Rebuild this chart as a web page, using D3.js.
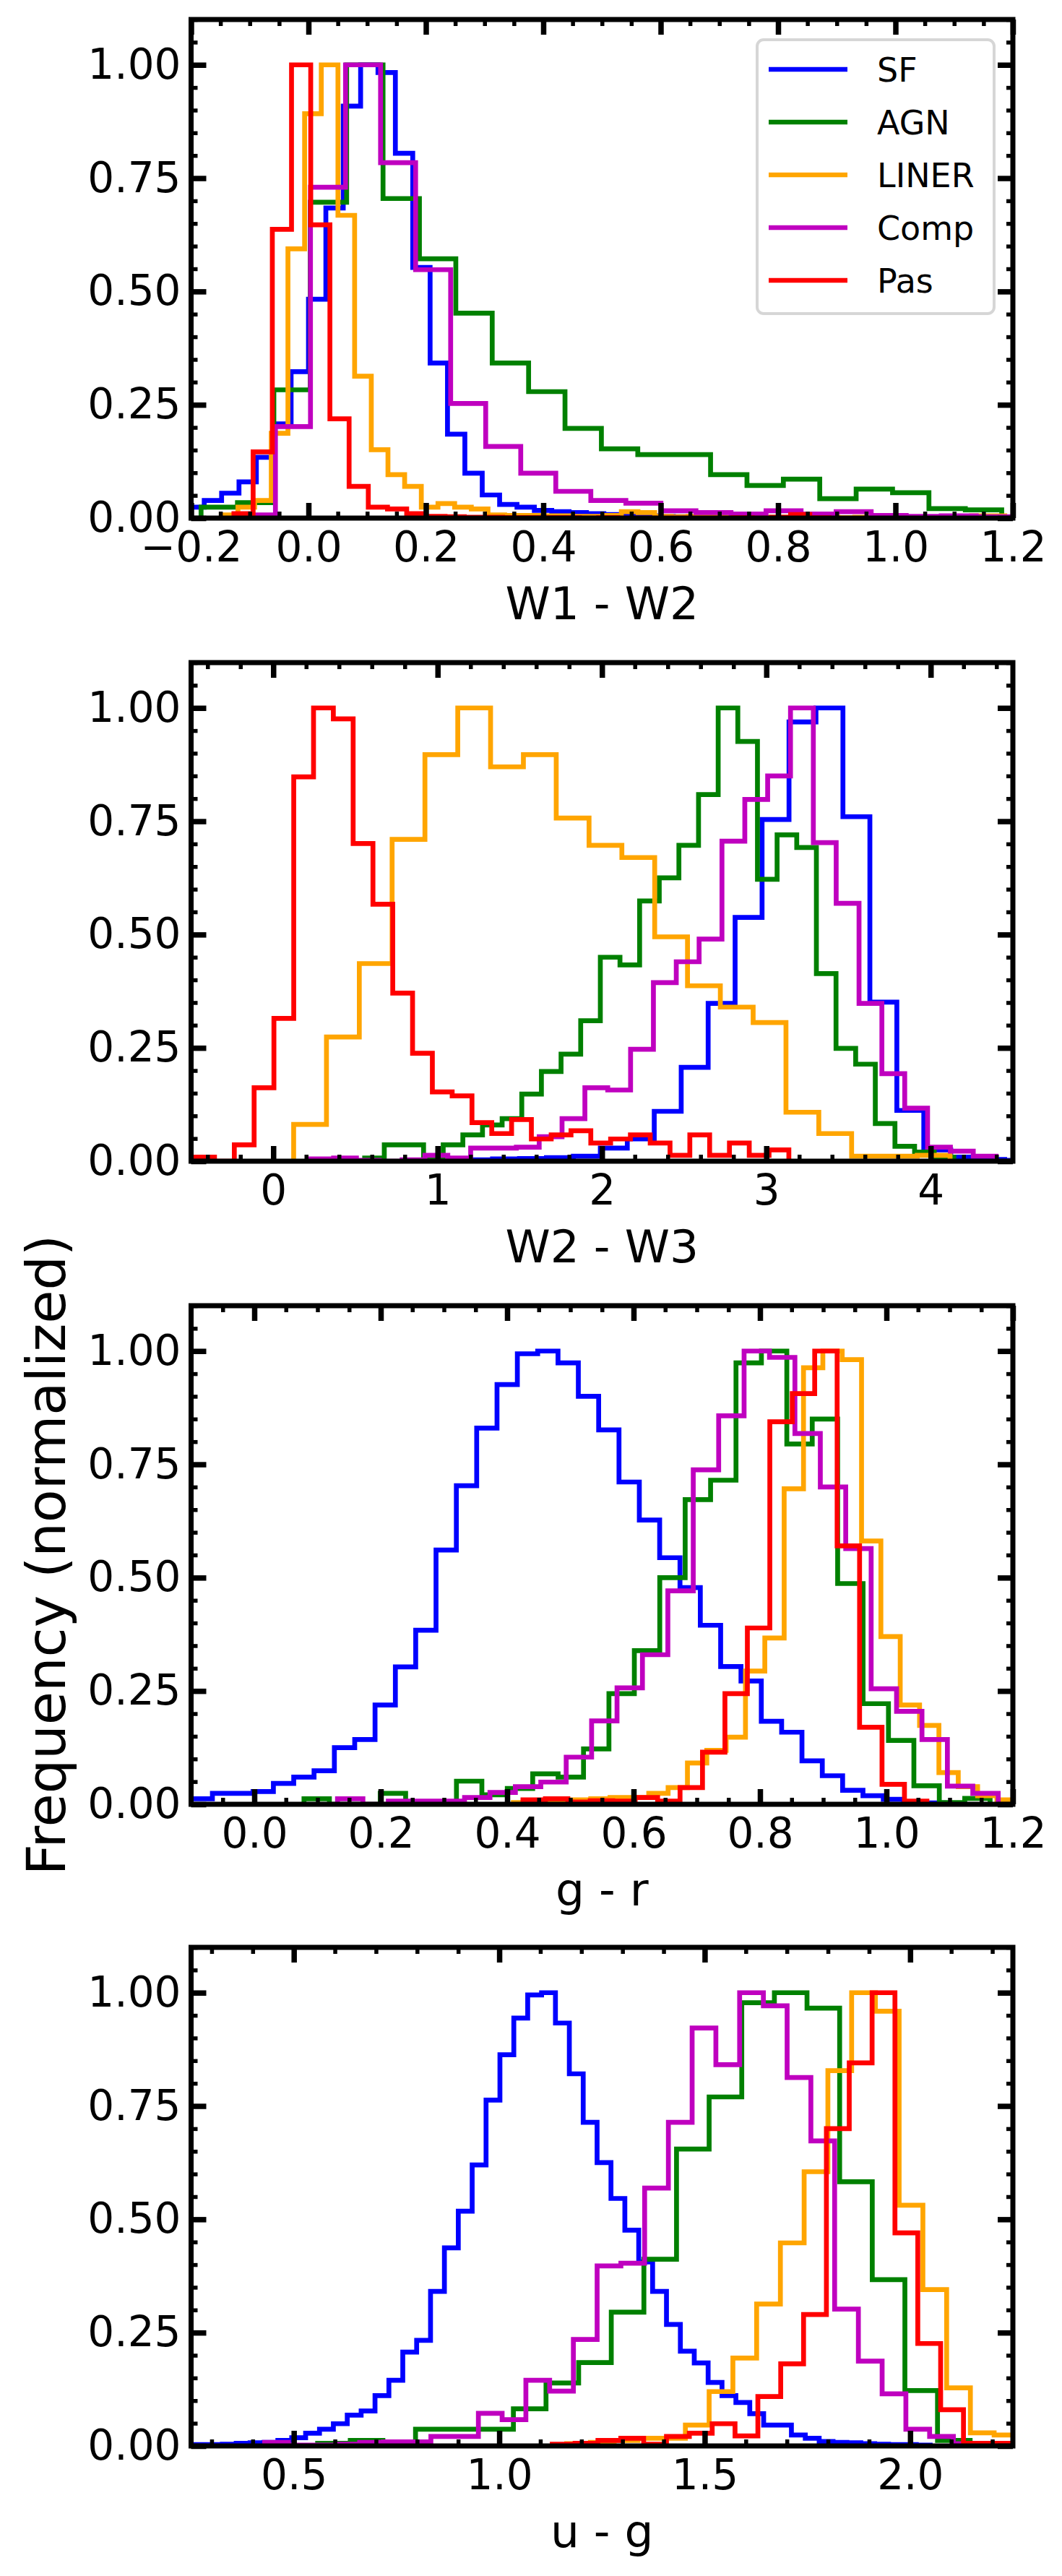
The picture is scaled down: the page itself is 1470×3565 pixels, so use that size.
<!DOCTYPE html>
<html>
<head>
<meta charset="utf-8">
<script src="https://cdn.jsdelivr.net/npm/d3@7"></script>
<style>
  body { margin: 0; background: #fff; }
  text { font-family: "DejaVu Sans", sans-serif; }
</style>
</head>
<body>
<div id="chart"></div>
<script>
// class names and line colours (legend order = draw order)
var classNames = ["SF", "AGN", "LINER", "Comp", "Pas"];
var classColors = ["#0000ff", "#008000", "#ffa500", "#bf00bf", "#ff0000"];

// shared y ticks
var yTicks = [0, 0.25, 0.5, 0.75, 1.0];
var yTickLabels = ["0.00", "0.25", "0.50", "0.75", "1.00"];

// ---- W1 - W2 ----
var w12Ticks = [-0.2, 0, 0.2, 0.4, 0.6, 0.8, 1.0, 1.2];
var w12TickLabels = ["\u22120.2", "0.0", "0.2", "0.4", "0.6", "0.8", "1.0", "1.2"];
var w12Start = [-0.2072, -0.183, -0.1486, -0.116, -0.127];   // first bin edge per class
var w12Width = [0.0296, 0.062, 0.0284, 0.0597, 0.0327];      // bin width per class
var w12SF = [0.024, 0.039, 0.055, 0.08, 0.134, 0.208, 0.323, 0.483, 0.684, 0.909, 1.0, 0.983, 0.805, 0.553, 0.342, 0.185, 0.099, 0.051, 0.03, 0.024, 0.017, 0.014, 0.012, 0.01, 0.008, 0.006, 0.005, 0.004, 0.003, 0.002, 0.002, 0.001, 0.001, 0.001];
var w12AGN = [0.024, 0.034, 0.283, 0.697, 1.0, 0.705, 0.572, 0.452, 0.342, 0.279, 0.198, 0.153, 0.14, 0.14, 0.096, 0.072, 0.086, 0.043, 0.064, 0.056, 0.021, 0.018];
var w12LINER = [0.007, 0.024, 0.039, 0.187, 0.594, 0.892, 1.0, 0.668, 0.313, 0.151, 0.096, 0.07, 0.024, 0.032, 0.024, 0.02, 0.007, 0.006, 0.006, 0.005, 0.005, 0.004, 0.004, 0.006, 0.014, 0.012, 0.004, 0.003, 0.004, 0.003, 0.002, 0.003, 0.002, 0.002, 0.002, 0.003, 0.002, 0.001, 0.002, 0.002, 0.001, 0.001, 0.002, 0.001, 0.003, 0.005, 0.005];
var w12Comp = [0.007, 0.202, 0.73, 1.0, 0.784, 0.548, 0.253, 0.158, 0.099, 0.059, 0.039, 0.033, 0.016, 0.012, 0.009, 0.016, 0.009, 0.014, 0.006, 0.004, 0.005, 0.003, 0.003];
var w12Pas = [0.01, 0.146, 0.637, 1.0, 0.647, 0.219, 0.07, 0.024, 0.02, 0.01, 0.004, 0.003, 0.002, 0.002, 0.001, 0.001, 0.001, 0.001, 0, 0.001, 0, 0, 0, 0, 0, 0, 0.001, 0, 0.002, 0.008, 0.001];

// ---- W2 - W3 ----
var w23Ticks = [0, 1, 2, 3, 4];
var w23TickLabels = ["0", "1", "2", "3", "4"];
var w23Start = [1.170, 0.556, 0.124, 0.228, -0.478];
var w23Width = [0.164, 0.1195, 0.1997, 0.139, 0.1205];
var w23SF = [0.003, 0.005, 0.006, 0.008, 0.011, 0.029, 0.049, 0.11, 0.207, 0.348, 0.538, 0.754, 0.969, 1.0, 0.76, 0.351, 0.112, 0.025, 0.009, 0.004, 0.002];
var w23AGN = [0.007, 0.036, 0.036, 0.009, 0.036, 0.058, 0.08, 0.094, 0.148, 0.198, 0.236, 0.31, 0.45, 0.433, 0.574, 0.625, 0.697, 0.809, 1.0, 0.926, 0.622, 0.72, 0.692, 0.414, 0.249, 0.214, 0.083, 0.033, 0.02, 0.009];
var w23LINER = [0.081, 0.274, 0.436, 0.71, 0.897, 1.0, 0.87, 0.897, 0.757, 0.697, 0.67, 0.495, 0.387, 0.34, 0.306, 0.108, 0.061, 0.011, 0.011, 0.013];
var w23Comp = [0.005, 0.007, 0.002, 0, 0.003, 0.013, 0.007, 0.029, 0.029, 0.031, 0.054, 0.094, 0.162, 0.157, 0.247, 0.394, 0.44, 0.49, 0.706, 0.798, 0.85, 1.0, 0.703, 0.569, 0.348, 0.193, 0.117, 0.031, 0.022, 0.011];
var w23Pas = [0.009, 0, 0.036, 0.162, 0.315, 0.848, 1.0, 0.976, 0.701, 0.567, 0.371, 0.238, 0.153, 0.144, 0.085, 0.061, 0.092, 0.049, 0.058, 0.067, 0.04, 0.049, 0.058, 0.04, 0.013, 0.058, 0.013, 0.04, 0.013, 0.025];

// ---- g - r ----
var grTicks = [0, 0.2, 0.4, 0.6, 0.8, 1.0, 1.2];
var grTickLabels = ["0.0", "0.2", "0.4", "0.6", "0.8", "1.0", "1.2"];
var grStart = [-0.1306, 0.0786, 0.4098, 0.1316, 0.425];
var grWidth = [0.03216, 0.0402, 0.0306, 0.0402, 0.0355];
var grSF = [0.012, 0.012, 0.024, 0.024, 0.028, 0.046, 0.06, 0.074, 0.125, 0.143, 0.219, 0.303, 0.384, 0.561, 0.703, 0.83, 0.926, 0.994, 1.0, 0.974, 0.90, 0.826, 0.711, 0.627, 0.544, 0.478, 0.395, 0.304, 0.272, 0.183, 0.159, 0.096, 0.063, 0.031, 0.019, 0.011, 0.006, 0.003, 0.002];
var grAGN = [0.012, 0, 0, 0.024, 0.003, 0.003, 0.051, 0.021, 0.035, 0.067, 0.06, 0.122, 0.244, 0.339, 0.5, 0.672, 0.715, 0.974, 1.0, 0.795, 0.85, 0.487, 0.222, 0.141, 0.041, 0.004, 0.013];
var grLINER = [0.004, 0.007, 0.007, 0.01, 0.012, 0.015, 0.015, 0.024, 0.037, 0.091, 0.119, 0.148, 0.294, 0.367, 0.696, 0.963, 1.0, 0.981, 0.581, 0.37, 0.219, 0.174, 0.07, 0.039, 0.019, 0.01];
var grComp = [0.012, 0, 0.007, 0.007, 0.007, 0.015, 0.026, 0.039, 0.049, 0.104, 0.184, 0.257, 0.33, 0.471, 0.738, 0.857, 1.0, 0.986, 0.818, 0.70, 0.564, 0.255, 0.205, 0.143, 0.04, 0.024];
var grPas = [0.01, 0.012, 0.005, 0.008, 0.007, 0.015, 0.007, 0.037, 0.115, 0.244, 0.389, 0.844, 0.906, 1.0, 0.57, 0.17, 0.044, 0.007];

// ---- u - g ----
var ugTicks = [0.5, 1.0, 1.5, 2.0];
var ugTickLabels = ["0.5", "1.0", "1.5", "2.0"];
var ugStart = [0.2247, 0.558, 1.164, 0.429, 1.129];
var ugWidth = [0.03378, 0.0794, 0.0578, 0.0578, 0.0556];
var ugSF = [0.002, 0.003, 0.003, 0.004, 0.006, 0.007, 0.008, 0.012, 0.018, 0.028, 0.037, 0.049, 0.068, 0.077, 0.111, 0.145, 0.207, 0.233, 0.341, 0.437, 0.518, 0.62, 0.763, 0.863, 0.944, 0.995, 1.0, 0.933, 0.821, 0.714, 0.625, 0.546, 0.476, 0.406, 0.341, 0.268, 0.209, 0.183, 0.14, 0.111, 0.096, 0.071, 0.046, 0.046, 0.024, 0.017, 0.01, 0.008, 0.007, 0.005, 0.004, 0.003, 0.003, 0.002];
var ugAGN = [0.006, 0.012, 0.008, 0.037, 0.037, 0.037, 0.082, 0.139, 0.184, 0.295, 0.412, 0.655, 0.77, 0.978, 1.0, 0.966, 0.583, 0.367, 0.122, 0.012];
var ugLINER = [0.005, 0.008, 0.012, 0.017, 0.017, 0.046, 0.12, 0.194, 0.313, 0.448, 0.605, 0.828, 1.0, 0.959, 0.531, 0.345, 0.128, 0.029, 0.024];
var ugComp = [0.008, 0.002, 0.002, 0.004, 0.008, 0.009, 0.009, 0.021, 0.021, 0.072, 0.058, 0.145, 0.121, 0.235, 0.397, 0.403, 0.569, 0.714, 0.922, 0.841, 1.0, 0.971, 0.813, 0.673, 0.302, 0.187, 0.115, 0.037, 0.021, 0.005];
var ugPas = [0.004, 0.006, 0.012, 0.017, 0.004, 0.021, 0.028, 0.049, 0.022, 0.109, 0.181, 0.29, 0.70, 0.845, 1.0, 0.47, 0.226, 0.08, 0.006, 0.006];

// panel table built from the arrays above
var panels = [
  { xlabel: "W1 - W2", xlim: [-0.2, 1.2], minor: 0.05, ticks: w12Ticks, labels: w12TickLabels,
    start: w12Start, width: w12Width, series: [w12SF, w12AGN, w12LINER, w12Comp, w12Pas] },
  { xlabel: "W2 - W3", xlim: [-0.5, 4.5], minor: 0.2, ticks: w23Ticks, labels: w23TickLabels,
    start: w23Start, width: w23Width, series: [w23SF, w23AGN, w23LINER, w23Comp, w23Pas] },
  { xlabel: "g - r", xlim: [-0.1, 1.2], minor: 0.05, ticks: grTicks, labels: grTickLabels,
    start: grStart, width: grWidth, series: [grSF, grAGN, grLINER, grComp, grPas] },
  { xlabel: "u - g", xlim: [0.25, 2.25], minor: 0.1, ticks: ugTicks, labels: ugTickLabels,
    start: ugStart, width: ugWidth, series: [ugSF, ugAGN, ugLINER, ugComp, ugPas] }
];

// layout
var W = 1470, H = 3565;
var left = 264.5, plotW = 1137.5, plotH = 690;
var tops = [27, 917, 1807, 2695];

var svg = d3.select("#chart")
  .append("svg")
  .attr("width", W)
  .attr("height", H)
  .style("background", "#fff");

// styles an axis: inward ticks, no domain line
function styleAxis(sel, width, fontSize) {
  sel.select(".domain").remove();
  sel.selectAll(".tick line").attr("stroke", "#000").attr("stroke-width", width);
  sel.selectAll(".tick text")
    .attr("font-family", "DejaVu Sans")
    .attr("font-size", fontSize)
    .attr("fill", "#000");
}

function minorValues(lo, hi, step) {
  var out = [];
  var n0 = Math.ceil(lo / step - 1e-9), n1 = Math.floor(hi / step + 1e-9);
  for (var n = n0; n <= n1; n++) out.push(+(n * step).toFixed(6));
  return out;
}

panels.forEach(function (p, i) {
  var top = tops[i];
  var x = d3.scaleLinear().domain(p.xlim).range([left, left + plotW]);
  var y = d3.scaleLinear().domain([0, 1.1]).range([top + plotH, top]);

  svg.append("clipPath").attr("id", "clip" + i)
    .append("rect")
    .attr("x", left).attr("y", top)
    .attr("width", plotW).attr("height", plotH);

  var line = d3.line()
    .x(function (d) { return x(d[0]); })
    .y(function (d) { return y(d[1]); });

  // step histograms
  var g = svg.append("g").attr("clip-path", "url(#clip" + i + ")");
  p.series.forEach(function (vals, s) {
    var x0 = p.start[s], bw = p.width[s];
    var pts = [[x0, 0]];
    vals.forEach(function (v, k) {
      pts.push([x0 + k * bw, v]);
      pts.push([x0 + (k + 1) * bw, v]);
    });
    pts.push([x0 + vals.length * bw, 0]);
    g.append("path")
      .attr("d", line(pts))
      .attr("fill", "none")
      .attr("stroke", classColors[s])
      .attr("stroke-width", 6.7)
      .attr("stroke-linejoin", "miter");
  });

  // frame
  svg.append("rect")
    .attr("x", left).attr("y", top)
    .attr("width", plotW).attr("height", plotH)
    .attr("fill", "none")
    .attr("stroke", "#000")
    .attr("stroke-width", 7);

  var xMinor = minorValues(p.xlim[0], p.xlim[1], p.minor);
  var yMinor = minorValues(0, 1.1, 0.05);

  // minor ticks, all sides
  svg.append("g").attr("transform", "translate(0," + (top + plotH) + ")")
    .call(d3.axisBottom(x).tickValues(xMinor).tickFormat("").tickSizeInner(-9).tickSizeOuter(0))
    .call(styleAxis, 5.5, 0);
  svg.append("g").attr("transform", "translate(0," + top + ")")
    .call(d3.axisTop(x).tickValues(xMinor).tickFormat("").tickSizeInner(-9).tickSizeOuter(0))
    .call(styleAxis, 5.5, 0);
  svg.append("g").attr("transform", "translate(" + left + ",0)")
    .call(d3.axisLeft(y).tickValues(yMinor).tickFormat("").tickSizeInner(-9).tickSizeOuter(0))
    .call(styleAxis, 5.5, 0);
  svg.append("g").attr("transform", "translate(" + (left + plotW) + ",0)")
    .call(d3.axisRight(y).tickValues(yMinor).tickFormat("").tickSizeInner(-9).tickSizeOuter(0))
    .call(styleAxis, 5.5, 0);

  // major ticks with labels on bottom and left
  svg.append("g").attr("transform", "translate(0," + (top + plotH) + ")")
    .call(d3.axisBottom(x).tickValues(p.ticks)
      .tickFormat(function (d, j) { return p.labels[j]; })
      .tickSizeInner(-21).tickSizeOuter(0).tickPadding(19))
    .call(styleAxis, 7.5, 58);
  svg.append("g").attr("transform", "translate(0," + top + ")")
    .call(d3.axisTop(x).tickValues(p.ticks).tickFormat("").tickSizeInner(-21).tickSizeOuter(0))
    .call(styleAxis, 7.5, 0);
  svg.append("g").attr("transform", "translate(" + left + ",0)")
    .call(d3.axisLeft(y).tickValues(yTicks)
      .tickFormat(function (d, j) { return yTickLabels[j]; })
      .tickSizeInner(-21).tickSizeOuter(0).tickPadding(14))
    .call(styleAxis, 7.5, 58);
  svg.append("g").attr("transform", "translate(" + (left + plotW) + ",0)")
    .call(d3.axisRight(y).tickValues(yTicks).tickFormat("").tickSizeInner(-21).tickSizeOuter(0))
    .call(styleAxis, 7.5, 0);

  // x label
  svg.append("text")
    .attr("x", left + plotW / 2)
    .attr("y", top + plotH + 140)
    .attr("text-anchor", "middle")
    .attr("font-size", 63)
    .attr("fill", "#000")
    .text(p.xlabel);
});

// y label sits on the third panel
svg.append("text")
  .attr("transform", "translate(90," + (tops[2] + plotH / 2) + ") rotate(-90)")
  .attr("text-anchor", "middle")
  .attr("font-size", 75)
  .attr("fill", "#000")
  .text("Frequency (normalized)");

// legend in the first panel
var legend = svg.append("g");
legend.append("rect")
  .attr("x", 1048).attr("y", 55)
  .attr("width", 328).attr("height", 379)
  .attr("rx", 9).attr("ry", 9)
  .attr("fill", "#fff").attr("fill-opacity", 0.8)
  .attr("stroke", "#d6d6d6").attr("stroke-width", 4);
classNames.forEach(function (name, s) {
  var cy = 96 + s * 73;
  legend.append("line")
    .attr("x1", 1064).attr("x2", 1173)
    .attr("y1", cy).attr("y2", cy)
    .attr("stroke", classColors[s])
    .attr("stroke-width", 6.7);
  legend.append("text")
    .attr("x", 1214).attr("y", cy)
    .attr("dy", "0.36em")
    .attr("font-size", 46)
    .attr("fill", "#000")
    .text(name);
});
</script>
</body>
</html>
